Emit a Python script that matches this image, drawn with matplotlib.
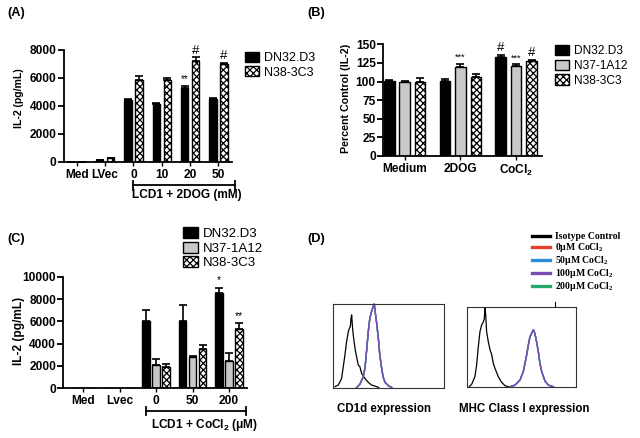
import matplotlib
matplotlib.use('Agg')
import matplotlib.pyplot as plt
from matplotlib.patches import Patch
from matplotlib.lines import Line2D
import numpy as np

plt.rcParams['font.family'] = ['Liberation Sans', 'DejaVu Sans']
plt.rcParams['mathtext.default'] = 'regular'
plt.rcParams['hatch.linewidth'] = 0.9

# ---------------- data ----------------
# Panel A
a_groups = ['Med', 'LVec', '0', '10', '20', '50']
a_dn32 = [0, 120, 4390, 4150, 5270, 4480]
a_dn32_err = [0, 20, 80, 40, 120, 50]
a_n38 = [0, 230, 5820, 5820, 7190, 7000]
a_n38_err = [0, 20, 300, 190, 280, 60]
a_yticks = [0, 2000, 4000, 6000, 8000]

# Panel B
b_groups = ['Medium', '2DOG', 'CoCl$_2$']
b_dn32 = [101, 100.5, 133.5]
b_dn32_err = [1.5, 3, 2.5]
b_n37 = [100, 119, 121]
b_n37_err = [0.5, 4.5, 2]
b_n38 = [100, 106.5, 127.5]
b_n38_err = [5, 3, 1.5]
b_yticks = [0, 25, 50, 75, 100, 125, 150]

# Panel C
c_groups = ['Med', 'Lvec', '0', '50', '200']
c_dn32 = [0, 0, 6040, 6040, 8540]
c_dn32_err = [0, 0, 1010, 1400, 480]
c_n37 = [0, 0, 2080, 2770, 2440]
c_n37_err = [0, 0, 510, 80, 740]
c_n38 = [0, 0, 1875, 3480, 5270]
c_n38_err = [0, 0, 270, 390, 590]
c_yticks = [0, 2000, 4000, 6000, 8000, 10000]

# Panel D histograms (fraction of box width / height)
cd1d_iso_x = [0.015, 0.045, 0.075, 0.09, 0.105, 0.12, 0.136, 0.145, 0.154, 0.16, 0.166, 0.172,
              0.18, 0.196, 0.21, 0.226, 0.24, 0.256, 0.286, 0.316, 0.346, 0.41]
cd1d_iso_y = [0.012, 0.032, 0.11, 0.25, 0.39, 0.55, 0.67, 0.71, 0.73, 0.83, 0.87, 0.75,
              0.63, 0.47, 0.37, 0.27, 0.25, 0.17, 0.11, 0.064, 0.032, 0.004]
cd1d_co_x = [0.21, 0.24, 0.27, 0.286, 0.30, 0.316, 0.33, 0.346, 0.36, 0.37, 0.38, 0.39,
             0.407, 0.42, 0.437, 0.45, 0.467, 0.497, 0.527]
cd1d_co_y = [0.0, 0.04, 0.13, 0.23, 0.43, 0.67, 0.83, 0.91, 0.97, 1.0, 0.89, 0.79,
             0.59, 0.39, 0.23, 0.13, 0.064, 0.024, 0.004]
mhc_iso_x = [0.018, 0.04, 0.07, 0.086, 0.10, 0.117, 0.132, 0.148, 0.157, 0.163, 0.17, 0.178,
             0.194, 0.21, 0.225, 0.24, 0.255, 0.286, 0.317, 0.348, 0.378]
mhc_iso_y = [0.0, 0.03, 0.125, 0.27, 0.48, 0.69, 0.77, 0.81, 0.85, 0.98, 0.9, 0.69,
             0.56, 0.46, 0.40, 0.29, 0.23, 0.125, 0.054, 0.0125, 0.0]
mhc_co_x = [0.394, 0.44, 0.486, 0.517, 0.548, 0.563, 0.578, 0.594, 0.609, 0.618, 0.634, 0.655,
            0.67, 0.686, 0.717, 0.748, 0.794]
mhc_co_y = [0.0, 0.02, 0.083, 0.19, 0.40, 0.52, 0.625, 0.67, 0.71, 0.69, 0.60, 0.44,
            0.29, 0.19, 0.07, 0.02, 0.0]
d_labels = ['Isotype Control', '0\u03bcM CoCl$_2$', '50\u03bcM CoCl$_2$',
            '100\u03bcM CoCl$_2$', '200\u03bcM CoCl$_2$']
d_colors = ['black', '#e5402a', '#2b8ed8', '#7d4db6', '#27a86b']

# ---------------- figure ----------------
W, H = 640, 438
fig = plt.figure(figsize=(6.4, 4.38), dpi=100)


def rect(x0, y0, x1, y1):
    return [x0 / W, 1 - y1 / H, (x1 - x0) / W, (y1 - y0) / H]


def fx(px):
    return px / W


def fy(py):
    return 1 - py / H


BLACK = dict(facecolor='black', edgecolor='black', linewidth=1.0)
GRAY = dict(facecolor='#c8c8c8', edgecolor='black', linewidth=1.0)
CHECK = dict(facecolor='white', edgecolor='black', hatch='xxxxx', linewidth=1.0)


def style_axes(ax, fs):
    for s in ['top', 'right']:
        ax.spines[s].set_visible(False)
    for s in ['left', 'bottom']:
        ax.spines[s].set_linewidth(1.3)
    ax.tick_params(axis='y', width=1.3, length=4, labelsize=fs, pad=1.2)
    ax.tick_params(axis='x', width=1.0, length=3, labelsize=fs, pad=2)
    for lab in ax.get_xticklabels() + ax.get_yticklabels():
        lab.set_fontweight('bold')


def errs(ax, x, y, e):
    ax.errorbar(x, y, yerr=[np.zeros(len(e)), e], fmt='none', ecolor='black',
                elinewidth=1.2, capsize=3, capthick=1.2, zorder=1)


def mark(ax, x, top, s, fs, dy=1.5):
    ax.annotate(s, xy=(x, top), xytext=(0, dy), textcoords='offset points',
                ha='center', va='bottom', fontsize=fs, annotation_clip=False)


# ---------- Panel A ----------
axA = fig.add_axes(rect(63.5, 50, 232, 161.7))
xa = np.arange(len(a_groups))
oa, wa = 0.196, 0.26
axA.bar(xa - oa, a_dn32, wa, zorder=2, **BLACK)
axA.bar(xa + oa, a_n38, wa, zorder=2, **CHECK)
errs(axA, xa - oa, a_dn32, a_dn32_err)
errs(axA, xa + oa, a_n38, a_n38_err)
axA.set_xlim(-0.47, 5.48)
axA.set_ylim(0, 8000)
axA.set_yticks(a_yticks)
axA.set_xticks(xa)
axA.set_xticklabels(a_groups)
style_axes(axA, 8.6)
mark(axA, 4 - oa, a_dn32[4] + a_dn32_err[4], '**', 7)
mark(axA, 4 + oa, a_n38[4] + a_n38_err[4], '#', 9.5, 0.5)
mark(axA, 5 + oa, a_n38[5] + a_n38_err[5], '#', 9.5, 0.5)
axA.legend(handles=[Patch(**BLACK), Patch(**CHECK)], labels=['DN32.D3', 'N38-3C3'],
           loc='upper left', bbox_to_anchor=(fx(245), fy(52)), bbox_transform=fig.transFigure,
           frameon=False, fontsize=9, handlelength=1.1, handleheight=0.85,
           handletextpad=0.4, labelspacing=0.15, borderpad=0, borderaxespad=0)
fig.text(fx(19), fy(98), 'IL-2 (pg/mL)', rotation=90, ha='center', va='center',
         fontsize=7.6, fontweight='bold')
fig.text(fx(7), fy(13), '(A)', ha='left', va='center', fontsize=9.2, fontweight='bold')
# bracket
axA.plot([2, 5.6], [-0.21, -0.21], transform=axA.get_xaxis_transform(), color='black',
         lw=1.3, clip_on=False)
for xb in (2, 5.6):
    axA.plot([xb, xb], [-0.25, -0.17], transform=axA.get_xaxis_transform(), color='black',
             lw=1.3, clip_on=False)
fig.text(fx(187), fy(195), 'LCD1 + 2DOG (mM)', ha='center', va='center', fontsize=8.6,
         fontweight='bold')

# ---------- Panel B ----------
axB = fig.add_axes(rect(383, 44.3, 542, 156))
xb_ = np.arange(len(b_groups))
ob, wb = 0.278, 0.19
axB.bar(xb_ - ob, b_dn32, wb, zorder=2, **BLACK)
axB.bar(xb_, b_n37, wb, zorder=2, **GRAY)
axB.bar(xb_ + ob, b_n38, wb, zorder=2, **CHECK)
errs(axB, xb_ - ob, b_dn32, b_dn32_err)
errs(axB, xb_, b_n37, b_n37_err)
errs(axB, xb_ + ob, b_n38, b_n38_err)
axB.set_xlim(-0.39, 2.465)
axB.set_ylim(0, 150)
axB.set_yticks(b_yticks)
axB.set_xticks(xb_)
axB.set_xticklabels(b_groups)
style_axes(axB, 8.6)
mark(axB, 1, b_n37[1] + b_n37_err[1], '***', 6.5)
mark(axB, 2 - ob, b_dn32[2] + b_dn32_err[2], '#', 9.5, 0.5)
mark(axB, 2, b_n37[2] + b_n37_err[2], '***', 6.5)
mark(axB, 2 + ob, b_n38[2] + b_n38_err[2], '#', 9.5, 0.5)
axB.legend(handles=[Patch(**BLACK), Patch(**GRAY), Patch(**CHECK)],
           labels=['DN32.D3', 'N37-1A12', 'N38-3C3'],
           loc='upper left', bbox_to_anchor=(fx(555), fy(45)), bbox_transform=fig.transFigure,
           frameon=False, fontsize=8.6, handlelength=1.2, handleheight=0.95,
           handletextpad=0.4, labelspacing=0.2, borderpad=0, borderaxespad=0)
fig.text(fx(346), fy(98), 'Percent Control (IL-2)', rotation=90, ha='center', va='center',
         fontsize=7.7, fontweight='bold')
fig.text(fx(307), fy(13), '(B)', ha='left', va='center', fontsize=9.2, fontweight='bold')

# ---------- Panel C ----------
axC = fig.add_axes(rect(63.3, 276.7, 247, 388.3))
xc = np.arange(len(c_groups))
oc, wc = 0.273, 0.2
axC.bar(xc - oc, c_dn32, wc, zorder=2, **BLACK)
axC.bar(xc, c_n37, wc, zorder=2, **GRAY)
axC.bar(xc + oc, c_n38, wc, zorder=2, **CHECK)
errs(axC, (xc - oc)[2:], c_dn32[2:], c_dn32_err[2:])
errs(axC, xc[2:], c_n37[2:], c_n37_err[2:])
errs(axC, (xc + oc)[2:], c_n38[2:], c_n38_err[2:])
axC.set_xlim(-0.54, 4.49)
axC.set_ylim(0, 10000)
axC.set_yticks(c_yticks)
axC.set_xticks(xc)
axC.set_xticklabels(c_groups)
style_axes(axC, 8.6)
mark(axC, 4 - oc, c_dn32[4] + c_dn32_err[4], '*', 7.5)
mark(axC, 4 + oc, c_n38[4] + c_n38_err[4], '**', 7.5)
axC.legend(handles=[Patch(**BLACK), Patch(**GRAY), Patch(**CHECK)],
           labels=['DN32.D3', 'N37-1A12', 'N38-3C3'],
           loc='upper left', bbox_to_anchor=(fx(183), fy(227)), bbox_transform=fig.transFigure,
           frameon=False, fontsize=9.5, handlelength=1.1, handleheight=0.9,
           handletextpad=0.4, labelspacing=0.12, borderpad=0, borderaxespad=0)
fig.text(fx(19), fy(331), 'IL-2 (pg/mL)', rotation=90, ha='center', va='center',
         fontsize=8.6, fontweight='bold')
fig.text(fx(7), fy(239), '(C)', ha='left', va='center', fontsize=9.2, fontweight='bold')
axC.plot([1.72, 4.46], [-0.205, -0.205], transform=axC.get_xaxis_transform(), color='black',
         lw=1.3, clip_on=False)
for xb in (1.72, 4.46):
    axC.plot([xb, xb], [-0.24, -0.17], transform=axC.get_xaxis_transform(), color='black',
             lw=1.3, clip_on=False)
fig.text(fx(205), fy(425), 'LCD1 + CoCl$_2$ (\u03bcM)', ha='center', va='center',
         fontsize=8.6, fontweight='bold')

# ---------- Panel D ----------
fig.text(fx(307), fy(239), '(D)', ha='left', va='center', fontsize=9.2, fontweight='bold')
axD1 = fig.add_axes(rect(333.3, 304, 444, 387.7))
axD2 = fig.add_axes(rect(467.3, 306.7, 575.7, 386.7))
for ax, (ix, iy), (cx, cy) in [(axD1, (cd1d_iso_x, cd1d_iso_y), (cd1d_co_x, cd1d_co_y)),
                               (axD2, (mhc_iso_x, mhc_iso_y), (mhc_co_x, mhc_co_y))]:
    ax.set_xlim(0, 1)
    ax.set_ylim(0, 1)
    ax.set_xticks([])
    ax.set_yticks([])
    for s in ax.spines.values():
        s.set_linewidth(0.8)
        s.set_color('#333333')
    ax.plot(ix, iy, color='black', lw=0.9, clip_on=False)
    for col in [d_colors[1], d_colors[4], d_colors[2], d_colors[3]]:
        ax.plot(cx, cy, color=col, lw=1.0, clip_on=False)
axD2.plot([0.81, 0.81], [1.0, 1.06], color='black', lw=0.8, clip_on=False)
fig.legend(handles=[Line2D([], [], color=c, lw=2.4) for c in d_colors], labels=d_labels,
           loc='upper left', bbox_to_anchor=(fx(532), fy(232)),
           frameon=False, prop={'family': 'Liberation Serif', 'weight': 'bold', 'size': 7},
           handlelength=1.9, handletextpad=0.45, labelspacing=0.0, borderpad=0,
           borderaxespad=0)
fig.text(fx(384), fy(409), 'CD1d expression', ha='center', va='center', fontsize=8.3,
         fontweight='bold')
fig.text(fx(524.5), fy(409), 'MHC Class I expression', ha='center', va='center',
         fontsize=8.3, fontweight='bold')

fig.savefig('out.png', dpi=100)
